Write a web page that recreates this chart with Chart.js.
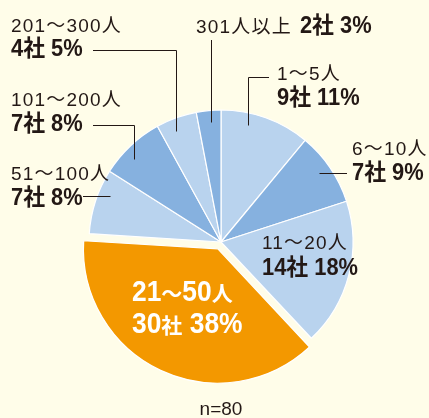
<!DOCTYPE html>
<html>
<head>
<meta charset="utf-8">
<script src="https://cdn.jsdelivr.net/npm/chart.js@4.4.1/dist/chart.umd.min.js"></script>
<style>
  html, body { margin: 0; padding: 0; background: #fffde9; }
  #wrap { width: 429px; height: 418px; }
</style>
</head>
<body>
<div id="wrap"><canvas id="pie" width="429" height="418"></canvas></div>
<script>
  // company size breakdown, n=80
  var categories = ['1～5人', '6～10人', '11～20人', '21～50人', '51～100人', '101～200人', '201～300人', '301人以上'];
  var companies = [9, 7, 14, 30, 7, 7, 4, 2];
  var percents = [11, 9, 18, 38, 8, 8, 5, 3];
  var sampleSize = 80;

  var LIGHT = '#b9d3ee';
  var MID = '#86b1df';
  var ORANGE = '#f39800';
  var INK = '#231815';
  var sliceColors = [LIGHT, MID, LIGHT, ORANGE, LIGHT, MID, LIGHT, MID];

  var REG = { font: '19px "Liberation Sans", "Noto Sans CJK JP", sans-serif', spacing: '1.2px', sx: 1 };
  var BOLD = { font: 'bold 23px "Liberation Sans", "Noto Sans CJK JP", sans-serif', spacing: '0px', sx: 0.95 };
  var BIG = { font: 'bold 30px "Liberation Sans", sans-serif', spacing: '0px', sx: 0.88 };
  var BIG_CJK = { font: 'bold 21px "Noto Sans CJK JP", sans-serif', spacing: '0px', sx: 1 };

  // where each label sits; leader: anchor inside slice (fraction of slice angle)
  var labelLayout = [
    { x: 277, y1: 80, y2: 105, leader: 'elbow', frac: 0.33, hy: 77, hx: 269 },
    { x: 352, y1: 155, y2: 180, leader: 'h', frac: 0.47, hx: 347 },
    { x: 262, y1: 249, y2: 275 },
    { x: 132, y1: 301, y2: 333, big: true },
    { x: 11, y1: 180, y2: 205, leader: 'h', frac: 0.66, hx: 83 },
    { x: 11, y1: 106, y2: 131, leader: 'elbow', frac: 0.39, hy: 125, hx: 93 },
    { x: 11, y1: 32, y2: 56, leader: 'elbow', frac: 0.38, hy: 50, hx: 93 },
    { x: 196, y1: 33, oneLine: true, leader: 'v', frac: 0.56, vy: 40 }
  ];

  function isCJK(ch) {
    return /[\u3000-\u9fff\uff00-\uffef]/.test(ch);
  }

  function drawRuns(ctx, runs, x, y, color) {
    ctx.fillStyle = color;
    ctx.textBaseline = 'alphabetic';
    ctx.textAlign = 'left';
    runs.forEach(function (r) {
      ctx.font = r.style.font;
      ctx.letterSpacing = r.style.spacing;
      ctx.save();
      ctx.translate(x, y);
      ctx.scale(r.style.sx, 1);
      ctx.fillText(r.text, 0, 0);
      ctx.restore();
      x += ctx.measureText(r.text).width * r.style.sx;
    });
    return x;
  }

  // split text so CJK glyphs get their own (smaller) font
  function splitRuns(text, latin, cjk) {
    var runs = [];
    for (var i = 0; i < text.length; i++) {
      var st = isCJK(text[i]) ? cjk : latin;
      if (runs.length && runs[runs.length - 1].style === st) runs[runs.length - 1].text += text[i];
      else runs.push({ text: text[i], style: st });
    }
    return runs;
  }

  var labelPlugin = {
    id: 'sliceLabels',
    afterDatasetsDraw: function (chart) {
      var ctx = chart.ctx;
      var arcs = chart.getDatasetMeta(0).data;
      ctx.save();

      // leader lines
      ctx.strokeStyle = INK;
      ctx.lineWidth = 1;
      labelLayout.forEach(function (L, i) {
        if (!L.leader) return;
        var a = arcs[i];
        var ang = a.startAngle + (a.endAngle - a.startAngle) * L.frac;
        var r = a.outerRadius * 0.91;
        var px = Math.round(a.x + Math.cos(ang) * r) + 0.5;
        var py = Math.round(a.y + Math.sin(ang) * r) + 0.5;
        ctx.beginPath();
        ctx.moveTo(px, py);
        if (L.leader === 'h') {
          ctx.lineTo(L.hx, py);
        } else if (L.leader === 'v') {
          ctx.lineTo(px, L.vy);
        } else {
          ctx.lineTo(px, L.hy + 0.5);
          ctx.lineTo(L.hx, L.hy + 0.5);
        }
        ctx.stroke();
      });

      // texts
      labelLayout.forEach(function (L, i) {
        var line2 = companies[i] + '社 ' + percents[i] + '%';
        if (L.big) {
          drawRuns(ctx, splitRuns(categories[i], BIG, BIG_CJK), L.x, L.y1, '#ffffff');
          drawRuns(ctx, splitRuns(line2, BIG, BIG_CJK), L.x, L.y2, '#ffffff');
        } else if (L.oneLine) {
          var nx = drawRuns(ctx, [{ text: categories[i], style: REG }], L.x, L.y1, INK);
          drawRuns(ctx, [{ text: line2, style: BOLD }], nx + 8, L.y1, INK);
        } else {
          drawRuns(ctx, [{ text: categories[i], style: REG }], L.x, L.y1, INK);
          drawRuns(ctx, [{ text: line2, style: BOLD }], L.x, L.y2, INK);
        }
      });

      // sample size
      ctx.font = '19px "Liberation Sans", sans-serif';
      ctx.letterSpacing = '0px';
      ctx.textAlign = 'center';
      ctx.fillStyle = INK;
      ctx.fillText('n=' + sampleSize, 221, 415);
      ctx.restore();
    }
  };

  new Chart(document.getElementById('pie'), {
    type: 'pie',
    data: {
      labels: categories,
      datasets: [{
        data: percents,
        backgroundColor: sliceColors,
        borderColor: '#ffffff',
        borderWidth: 1.2,
        offset: [0, 0, 0, 30, 0, 0, 0, 0],
        hoverOffset: 0,
        radius: 132
      }]
    },
    options: {
      responsive: false,
      animation: false,
      events: [],
      layout: { padding: { left: 13, right: 0, top: 66, bottom: 0 } },
      plugins: {
        legend: { display: false },
        tooltip: { enabled: false }
      }
    },
    plugins: [labelPlugin]
  });
</script>
</body>
</html>
